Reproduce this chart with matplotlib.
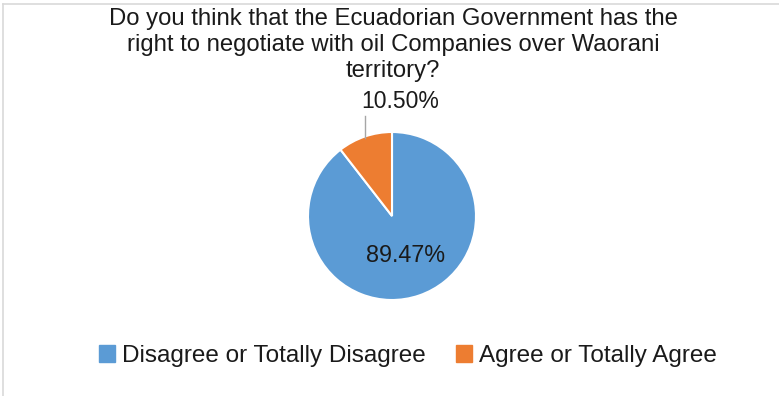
import numpy as np
import matplotlib.pyplot as plt
from matplotlib.patches import Patch

plt.rcParams['font.family'] = ['Liberation Sans', 'DejaVu Sans']

# data
categories = ['Disagree or Totally Disagree', 'Agree or Totally Agree']
values = [89.47, 10.50]
colors = ['#5B9BD5', '#ED7D31']
title = ('Do you think that the Ecuadorian Government has the\n'
         'right to negotiate with oil Companies over Waorani\n'
         'territory?')

W, H = 779, 396
fig = plt.figure(figsize=(W / 100, H / 100), dpi=100)
ax = fig.add_axes([0, 0, 1, 1])

# pie in pixel coords (y up)
cx, cy, r = 392, 180, 84
wedges, _ = ax.pie(values, colors=colors, startangle=90, counterclock=False,
                   center=(cx, cy), radius=r, frame=True,
                   wedgeprops=dict(edgecolor='white', linewidth=1.5))
ax.set_xlim(0, W)
ax.set_ylim(0, H)
ax.axis('off')
ax.set_aspect('equal')

# data labels
w0, w1 = wedges
a0 = np.deg2rad((w0.theta1 + w0.theta2) / 2)
ax.text(cx + 0.5 * r * np.cos(a0), cy + 0.5 * r * np.sin(a0),
        f'{values[0]:.2f}%', ha='center', va='center', fontsize=16.8, color='#1a1a1a')

a1 = np.deg2rad((w1.theta1 + w1.theta2) / 2)
ex, ey = cx + r * np.cos(a1), cy + r * np.sin(a1)
ax.plot([ex, ex], [ey - 1, ey + 21], color='#a6a6a6', linewidth=1)
ax.text(400, 294, f'{values[1]:.2f}%', ha='center', va='center',
        fontsize=16.5, color='#1a1a1a')

# title
ax.text(393, 351, title, ha='center', va='center', fontsize=17.2,
        color='#1a1a1a', linespacing=1.22)

# legend
handles = [Patch(facecolor=c, edgecolor=c) for c in colors]
fig.legend(handles, categories, loc='center', bbox_to_anchor=(408 / W, 1 - 356 / H),
           ncol=2, frameon=False, fontsize=17.5, handlelength=0.65, handleheight=0.65,
           handletextpad=0.3, columnspacing=1.25, labelcolor='#1a1a1a')

# border lines
ax.plot([3.5, 3.5], [0, H - 3.5], color='#d9d9d9', linewidth=1.2)
ax.plot([3.5, W], [H - 3.5, H - 3.5], color='#d9d9d9', linewidth=1.2)

fig.savefig('out.png', dpi=100)
